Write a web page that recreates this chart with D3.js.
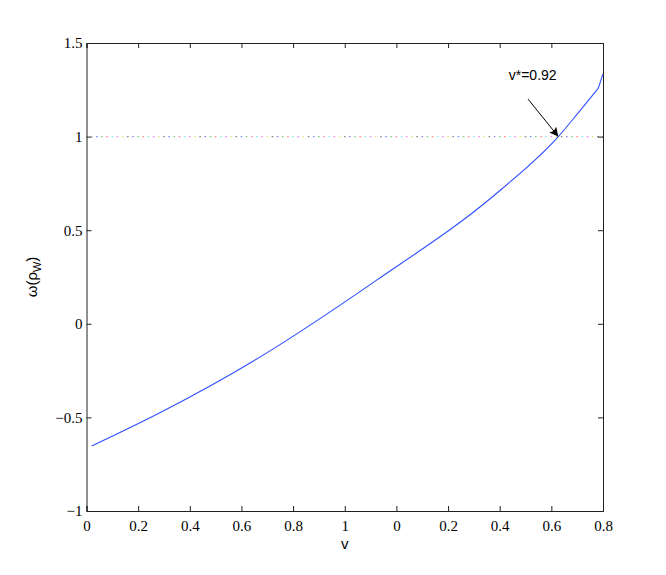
<!DOCTYPE html>
<html>
<head>
<meta charset="utf-8">
<script src="https://cdn.jsdelivr.net/npm/d3@7/dist/d3.min.js"></script>
<style>
  html, body { margin: 0; padding: 0; background: #fff; }
  svg { display: block; }
</style>
</head>
<body>
<svg id="chart" width="666" height="575"></svg>
<script>
// ---- data ----
const curveX = [0.02, 0.286, 0.645, 1.118, 1.601, 1.827, 1.9, 1.982, 2.0];
const curveY = [-0.653, -0.474, -0.2, 0.228, 0.712, 1.0, 1.12, 1.259, 1.335];
const levelX = [0.02, 2.0];
const levelY = [1, 1];
const xTickValues = [0, 0.2, 0.4, 0.6, 0.8, 1.0, 1.2, 1.4, 1.6, 1.8, 2.0];
const xTickLabels = ["0", "0.2", "0.4", "0.6", "0.8", "1", "0", "0.2", "0.4", "0.6", "0.8"];
const yTickValues = [-1, -0.5, 0, 0.5, 1, 1.5];
const yTickLabels = ["\u22121", "\u22120.5", "0", "0.5", "1", "1.5"];
const dotColors = ["#8a8a8a", "#7f8fff", "#7fd07f", "#ff8a8a", "#80f0f0", "#f08af0", "#e6e67a"];
const annotation = { text: "v*=0.92", textX: 1.635, textY: 1.3, fromX: 1.71, fromY: 1.2, toX: 1.827, toY: 1.0 };

// ---- layout ----
const svg = d3.select("#chart");
const L = 86.5, R = 603, T = 43, B = 511;
const x = d3.scaleLinear().domain([0, 2]).range([L, R]);
const y = d3.scaleLinear().domain([-1, 1.5]).range([B, T]);

const serif = "'Liberation Serif', 'Times New Roman', serif";
const sans = "'Liberation Sans', Arial, Helvetica, sans-serif";

// dotted multicolour level line at y = 1
const levelData = levelX.map((d, i) => [d, levelY[i]]);
const lineGen = d3.line().x(d => x(d[0])).y(d => y(d[1]));
const step = x(0.02) - x(0);
dotColors.forEach((c, k) => {
  svg.append("path")
    .datum(levelData)
    .attr("d", lineGen)
    .attr("fill", "none")
    .attr("stroke", c)
    .attr("stroke-width", 1.2)
    .attr("stroke-dasharray", `1.6 ${7 * step - 1.6}`)
    .attr("stroke-dashoffset", -(k * step) + 0.8);
});

// main curve: smooth part, then the abrupt final rise
const curveData = curveX.map((d, i) => [d, curveY[i]]);
const n = curveData.length;
svg.append("path")
  .datum(curveData.slice(0, n - 1))
  .attr("d", d3.line().x(d => x(d[0])).y(d => y(d[1])).curve(d3.curveMonotoneX))
  .attr("fill", "none")
  .attr("stroke", "#3050ff")
  .attr("stroke-width", 1.1);
svg.append("path")
  .datum(curveData.slice(n - 2))
  .attr("d", d3.line().x(d => x(d[0])).y(d => y(d[1])))
  .attr("fill", "none")
  .attr("stroke", "#3050ff")
  .attr("stroke-width", 1.1)
  .attr("stroke-linejoin", "round");

// axes box
const axisColor = "#222";
const gx = svg.append("g").attr("transform", `translate(0,${B})`)
  .call(d3.axisBottom(x).tickValues(xTickValues).tickSize(-5).tickPadding(6)
    .tickFormat((d, i) => xTickLabels[i]));
const gxTop = svg.append("g").attr("transform", `translate(0,${T})`)
  .call(d3.axisTop(x).tickValues(xTickValues).tickSize(-5).tickFormat(""));
const gy = svg.append("g").attr("transform", `translate(${L},0)`)
  .call(d3.axisLeft(y).tickValues(yTickValues).tickSize(-5).tickPadding(4)
    .tickFormat((d, i) => yTickLabels[i]));
const gyR = svg.append("g").attr("transform", `translate(${R},0)`)
  .call(d3.axisRight(y).tickValues(yTickValues).tickSize(-5).tickFormat(""));

[gx, gxTop, gy, gyR].forEach(g => {
  g.selectAll(".domain").attr("stroke", axisColor).attr("stroke-width", 1);
  g.selectAll(".tick line").attr("stroke", axisColor);
  g.selectAll(".tick text").attr("fill", "#000").attr("font-family", serif).attr("font-size", 15);
});
gx.selectAll(".tick text").attr("dy", "0.95em");

// annotation
svg.append("defs").append("marker")
  .attr("id", "ah").attr("viewBox", "0 0 10 10").attr("refX", 10).attr("refY", 5)
  .attr("markerWidth", 11).attr("markerHeight", 9).attr("markerUnits", "userSpaceOnUse")
  .attr("orient", "auto")
  .append("path").attr("d", "M0,0 L10,5 L0,10 L2,5 Z").attr("fill", "#000");
svg.append("line")
  .attr("x1", x(annotation.fromX)).attr("y1", y(annotation.fromY))
  .attr("x2", x(annotation.toX)).attr("y2", y(annotation.toY))
  .attr("stroke", "#000").attr("stroke-width", 1)
  .attr("marker-end", "url(#ah)");
svg.append("text")
  .attr("x", x(annotation.textX)).attr("y", y(annotation.textY))
  .attr("font-family", sans).attr("font-size", 14).attr("fill", "#000")
  .text(annotation.text);

// axis titles
svg.append("text")
  .attr("x", (L + R) / 2).attr("y", 549)
  .attr("text-anchor", "middle")
  .attr("font-family", sans).attr("font-size", 15).attr("fill", "#000")
  .text("v");

const yl = svg.append("text")
  .attr("transform", `translate(37,${(T + B) / 2}) rotate(-90)`)
  .attr("text-anchor", "middle")
  .attr("font-family", sans).attr("font-size", 15).attr("fill", "#000");
yl.append("tspan").text("\u03c9(\u03c1");
yl.append("tspan").attr("font-size", 11).attr("dy", 4).text("W");
yl.append("tspan").attr("dy", -4).text(")");
</script>
</body>
</html>
